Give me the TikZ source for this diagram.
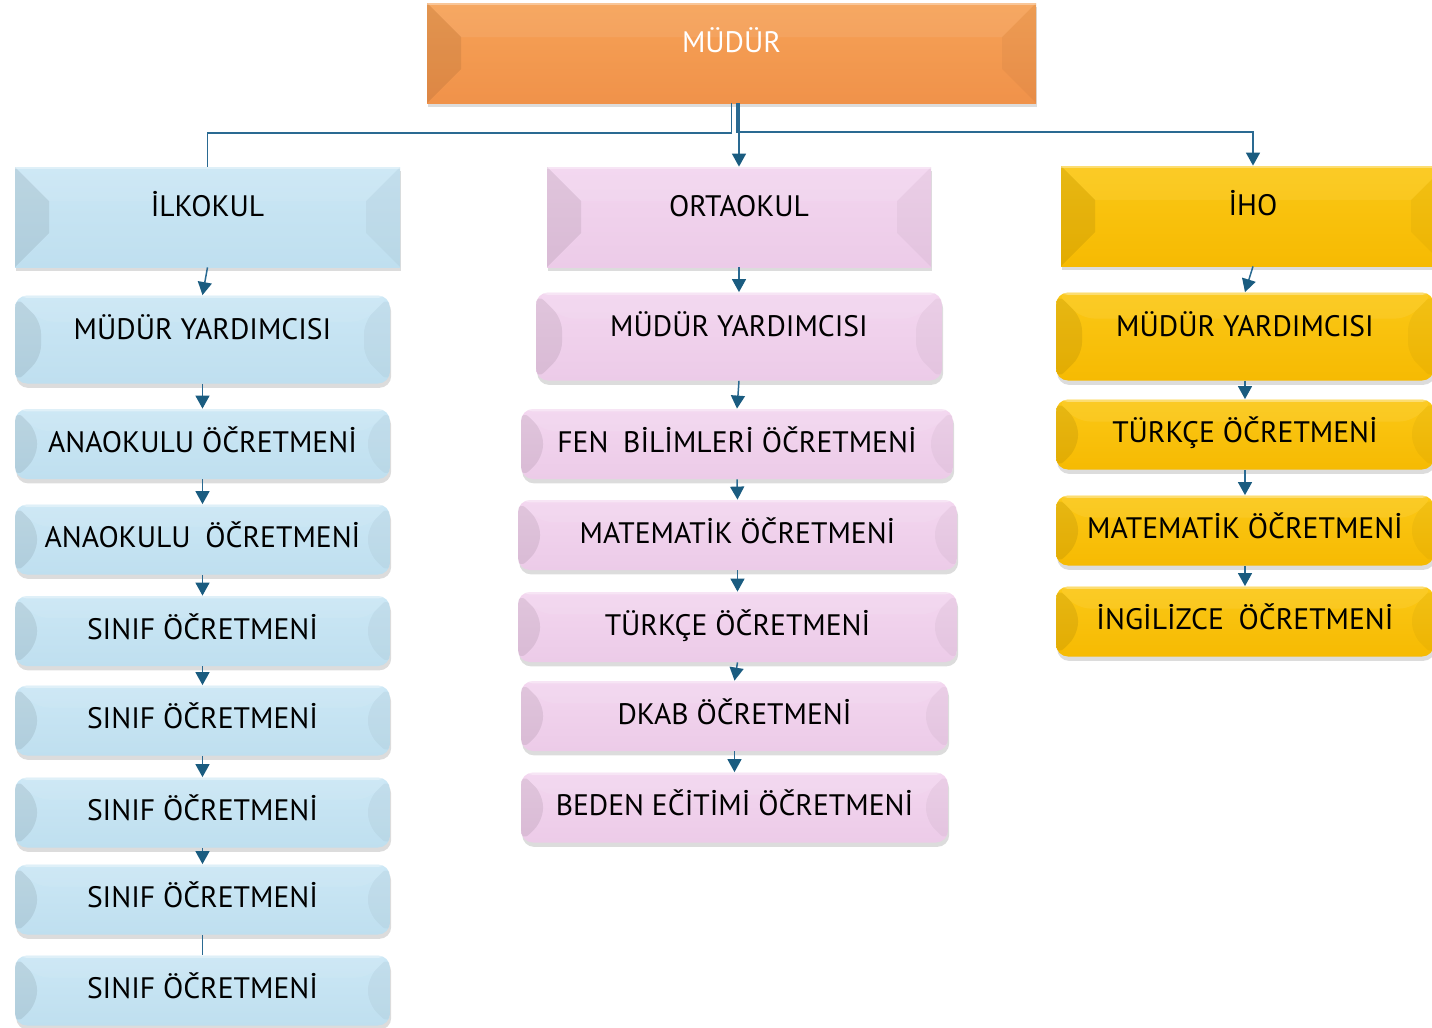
\documentclass[tikz,border=0pt]{standalone}
\usepackage{fontspec}
\setsansfont{PT Sans}
\usetikzlibrary{arrows.meta,shadows}
\definecolor{mudurorange}{HTML}{F0924A}
\definecolor{mudurtop}{HTML}{F6A257}
\definecolor{ilkblue}{HTML}{BFDFEF}
\definecolor{ilktop}{HTML}{CBE7F5}
\definecolor{ortapink}{HTML}{ECCBE8}
\definecolor{ortatop}{HTML}{F3D6EF}
\definecolor{ihogold}{HTML}{F6BA02}
\definecolor{ihotop}{HTML}{FBC816}
\definecolor{linkblue}{HTML}{2A6A92}
\definecolor{tipblue}{HTML}{1A5C80}
\tikzset{
  bevel/.style={
    path picture={
      \fill[black,opacity=.08] (path picture bounding box.north west) -- ++(#1,-#1)
        -- ([shift={(#1,#1)}]path picture bounding box.south west) -- (path picture bounding box.south west) -- cycle;
      \fill[black,opacity=.035] (path picture bounding box.north east) -- ++(-#1,-#1)
        -- ([shift={(-#1,#1)}]path picture bounding box.south east) -- (path picture bounding box.south east) -- cycle;
      \fill[white,opacity=.07] (path picture bounding box.north west) -- ++(#1,-#1)
        -- ([shift={(-#1,-#1)}]path picture bounding box.north east) -- (path picture bounding box.north east) -- cycle;
      \fill[white,opacity=.35] (path picture bounding box.north west) rectangle ([yshift=-1.2pt]path picture bounding box.north east);
    }
  },
  box/.style={
    font=\sffamily\fontsize{14.8}{16}\selectfont,
    align=center,
    inner sep=0pt,
    text height=10.5pt,
    text depth=2.5pt,
    drop shadow={shadow xshift=0.6pt, shadow yshift=-2.2pt, opacity=.28}
  },
  head/.style={box, minimum height=50pt, text depth=11pt, bevel=17pt},
  deputy/.style={box, rounded corners=6pt, minimum height=44pt, text depth=11pt, bevel=13pt},
  teacher/.style={box, rounded corners=6pt, minimum height=35pt, bevel=11pt},
  ilkfill/.style={top color=ilktop, bottom color=ilkblue},
  ortafill/.style={top color=ortatop, bottom color=ortapink},
  ihofill/.style={top color=ihotop, bottom color=ihogold},
  link/.style={line width=0.75pt, draw=linkblue},
  arrow/.style={
    -{Triangle[length=6.5pt,width=7pt,color=tipblue]},
    line width=0.75pt,
    draw=linkblue
  }
}

\begin{document}
\begin{tikzpicture}[x=0.5pt,y=-0.5pt]

\useasboundingbox (0,0) rectangle (1432,1028);
\clip (0,0) rectangle (1432,1028);

\node[head, top color=mudurtop, bottom color=mudurorange, text=white, minimum width=304.5pt] (mudur) at (731.5,53) {MÜDÜR};

% ilkokul
\node[head, ilkfill, minimum width=192.5pt] (ilk) at (207.5,217) {İLKOKUL};
\node[deputy, ilkfill, minimum width=187.5pt] (ilkmy) at (202.5,339.5) {MÜDÜR YARDIMCISI};
\node[teacher, ilkfill, minimum width=187.5pt] (ana1) at (202.5,444) {ANAOKULU ÖČRETMENİ};
\node[teacher, ilkfill, minimum width=187.5pt] (ana2) at (202.5,539.5) {ANAOKULU\hspace{.5em}ÖČRETMENİ};
\node[teacher, ilkfill, minimum width=187.5pt] (sinif1) at (202.5,631) {SINIF ÖČRETMENİ};
\node[teacher, ilkfill, minimum width=187.5pt] (sinif2) at (202.5,720.5) {SINIF ÖČRETMENİ};
\node[teacher, ilkfill, minimum width=187.5pt] (sinif3) at (202.5,812.5) {SINIF ÖČRETMENİ};
\node[teacher, ilkfill, minimum width=187.5pt] (sinif4) at (202.5,899.5) {SINIF ÖČRETMENİ};
\node[teacher, ilkfill, minimum width=187.5pt] (sinif5) at (202.5,990.5) {SINIF ÖČRETMENİ};

% ortaokul
\node[head, ortafill, minimum width=192pt] (orta) at (739,217) {ORTAOKUL};
\node[deputy, ortafill, minimum width=203pt] (ortamy) at (739,336.5) {MÜDÜR YARDIMCISI};
\node[teacher, ortafill, minimum width=216pt] (fen) at (737,444) {FEN\hspace{.5em}BİLİMLERİ ÖČRETMENİ};
\node[teacher, ortafill, minimum width=219.5pt] (ortamat) at (737.5,535) {MATEMATİK ÖČRETMENİ};
\node[teacher, ortafill, minimum width=219.5pt] (ortaturk) at (737.5,627) {TÜRKÇE ÖČRETMENİ};
\node[teacher, ortafill, minimum width=213.5pt] (dkab) at (734.5,716) {DKAB ÖČRETMENİ};
\node[teacher, ortafill, minimum width=213.5pt] (beden) at (734.5,807.5) {BEDEN EČİTİMİ ÖČRETMENİ};

% iho
\node[head, ihofill, minimum width=192pt] (iho) at (1253,216) {İHO};
\node[deputy, ihofill, minimum width=189pt] (ihomy) at (1245,336.5) {MÜDÜR YARDIMCISI};
\node[teacher, ihofill, minimum width=189pt] (ihoturk) at (1245,434.5) {TÜRKÇE ÖČRETMENİ};
\node[teacher, ihofill, minimum width=189pt] (ihomat) at (1245,530.5) {MATEMATİK ÖČRETMENİ};
\node[teacher, ihofill, minimum width=189pt] (ing) at (1245,621.5) {İNGİLİZCE\hspace{.5em}ÖČRETMENİ};

% top level links
\coordinate (bus) at (0,133);
\draw[link] (mudur.south) |- (bus -| ilk.north) -- (ilk.north);
\draw[arrow] ([xshift=2.75pt]mudur.south) |- ([yshift=0.5pt]bus -| iho.north) -- (iho.north);
\draw[arrow] (orta.north |- mudur.south) -- (orta.north);

% column links
\draw[arrow] (ilk.south) -- (ilkmy.north);
\draw[arrow] (ilkmy.south) -- (ana1.north);
\draw[arrow] (ana1.south) -- (ana2.north);
\draw[arrow] (ana2.south) -- (sinif1.north);
\draw[arrow] (sinif1.south) -- (sinif2.north);
\draw[arrow] (sinif2.south) -- (sinif3.north);
\draw[arrow] (sinif3.south) -- (sinif4.north);
\draw[link] (sinif4.south) -- (sinif5.north);

\draw[arrow] (orta.south) -- (ortamy.north);
\draw[arrow] (ortamy.south) -- (fen.north);
\draw[arrow] (fen.south) -- (ortamat.north);
\draw[arrow] (ortamat.south) -- (ortaturk.north);
\draw[arrow] (ortaturk.south) -- (dkab.north);
\draw[arrow] (dkab.south) -- (beden.north);

\draw[arrow] (iho.south) -- (ihomy.north);
\draw[arrow] (ihomy.south) -- (ihoturk.north);
\draw[arrow] (ihoturk.south) -- (ihomat.north);
\draw[arrow] (ihomat.south) -- (ing.north);

\end{tikzpicture}
\end{document}
